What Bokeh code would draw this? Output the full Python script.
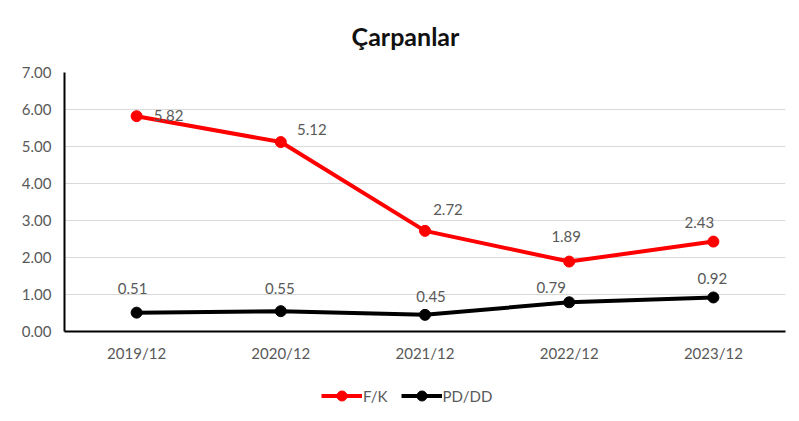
from bokeh.plotting import figure
from bokeh.layouts import column
from bokeh.models import (FactorRange, Range1d, FixedTicker, NumeralTickFormatter,
                          Legend, LegendItem, ColumnDataSource, LabelSet, Label)
from bokeh.core.properties import value
from bokeh.embed import file_html
from bokeh.resources import INLINE

title_text = "Çarpanlar"
categories = ["2019/12", "2020/12", "2021/12", "2022/12", "2023/12"]
fk = [5.82, 5.12, 2.72, 1.89, 2.43]
pddd = [0.51, 0.55, 0.45, 0.79, 0.92]
y_ticks = [0, 1, 2, 3, 4, 5, 6, 7]
series_names = ["F/K", "PD/DD"]

# data-label offsets (screen px)
fk_dx = [32, 31, 23, -3, -14]
fk_dy = [1, 13, 21, 25, 19]
pd_dx = [-4, -1, 6, -18, -1]
pd_dy = [24, 23, 18, 15, 19]

FONT = "Lato"
GRAY = "#595959"
RED = "#ff0000"


def blank(height):
    f = figure(width=799, height=height, output_backend="svg", toolbar_location=None,
               min_border=0, min_border_left=64, min_border_right=14,
               min_border_top=0, min_border_bottom=0,
               x_range=Range1d(0, 721), y_range=Range1d(0, height))
    f.axis.visible = False
    f.grid.visible = False
    f.outline_line_color = None
    return f


# title strip
t = blank(60)
t.add_layout(Label(x=341, y=25, text=title_text, text_font=FONT, text_font_size="25px",
                   text_font_style="bold", text_color="#111111",
                   text_align="center", text_baseline="middle"))

# main chart
p = figure(width=799, height=305, x_range=FactorRange(*categories, range_padding=0),
           y_range=Range1d(0, 7), output_backend="svg", toolbar_location=None,
           min_border_left=64, min_border_right=14, min_border_top=12, min_border_bottom=34)
p.outline_line_color = None

p.yaxis.ticker = FixedTicker(ticks=y_ticks)
p.yaxis.formatter = NumeralTickFormatter(format="0.00")
for ax in (p.xaxis[0], p.yaxis[0]):
    ax.major_tick_line_color = None
    ax.minor_tick_line_color = None
    ax.major_tick_out = 0
    ax.major_tick_in = 0
    ax.minor_tick_out = 0
    ax.axis_line_color = "black"
    ax.axis_line_width = 2
    ax.major_label_text_font = FONT
    ax.major_label_text_font_size = "15px"
    ax.major_label_text_color = GRAY
p.yaxis.major_label_standoff = 13
p.xaxis.major_label_standoff = 12
p.xgrid.grid_line_color = None
p.ygrid.grid_line_color = "#d9d9d9"
p.ygrid.grid_line_width = 1

src1 = ColumnDataSource(dict(x=categories, y=fk, t=[f"{v:.2f}" for v in fk], dx=fk_dx, dy=fk_dy))
src2 = ColumnDataSource(dict(x=categories, y=pddd, t=[f"{v:.2f}" for v in pddd], dx=pd_dx, dy=pd_dy))

p.line("x", "y", source=src1, line_color=RED, line_width=4)
p.scatter("x", "y", source=src1, size=11, fill_color=RED, line_color=RED)
p.line("x", "y", source=src2, line_color="black", line_width=4)
p.scatter("x", "y", source=src2, size=11, fill_color="black", line_color="black")

for src in (src1, src2):
    lab = LabelSet(x="x", y="y", text="t", source=src, x_offset="dx", y_offset="dy",
                   text_font=value(FONT), text_font_size=value("15px"), text_color=GRAY,
                   text_align="center", text_baseline="middle")
    p.add_layout(lab)

# legend strip below the chart (renderers hold off-range points only)
q = blank(56)
ql1 = q.line([-50, -40], [-50, -50], line_color=RED, line_width=4)
qs1 = q.scatter([-50], [-50], size=11, fill_color=RED, line_color=RED)
ql2 = q.line([-50, -40], [-50, -50], line_color="black", line_width=4)
qs2 = q.scatter([-50], [-50], size=11, fill_color="black", line_color="black")
legend = Legend(items=[LegendItem(label=series_names[0], renderers=[ql1, qs1]),
                       LegendItem(label=series_names[1], renderers=[ql2, qs2])],
                orientation="horizontal", location=(257, 13),
                label_text_font=FONT, label_text_font_size="15px", label_text_color=GRAY,
                glyph_width=41, glyph_height=25, spacing=13, label_standoff=1,
                border_line_color=None, background_fill_alpha=0, padding=0, margin=0)
q.add_layout(legend, "center")

layout = column(t, p, q, spacing=0)
open("out.html", "w").write(file_html(layout, INLINE))
